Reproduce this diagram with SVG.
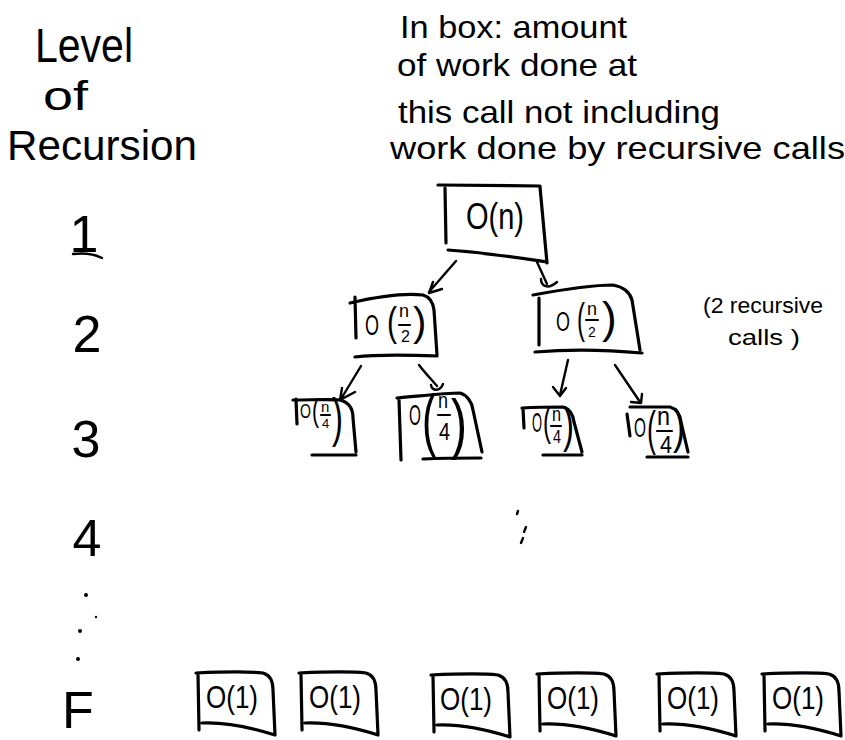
<svg xmlns="http://www.w3.org/2000/svg" xmlns:xlink="http://www.w3.org/1999/xlink" width="845" height="740" viewBox="0 0 845 740">
  <style>
    .ink { fill: none; stroke: #000; stroke-width: 3.2; stroke-linecap: round; stroke-linejoin: round; }
    .pen { fill: none; stroke: #000; stroke-width: 2.4; stroke-linecap: round; stroke-linejoin: round; }
    .bar { fill: none; stroke: #000; stroke-width: 2.2; stroke-linecap: round; }
    text { font-family: "Liberation Sans", "DejaVu Sans", sans-serif; fill: #000; }
    .note { font-size: 32px; }
    .lvl { font-size: 52px; text-anchor: middle; }
  </style>
  <defs>
    <!-- hand-drawn box used for the base-case calls -->
    <path id="leafBox" class="ink" d="M -1,1 C 22,0 48,-1 66,1 C 73,3 76,9 76,18 L 78,63 M 1,2 L 2,58 M 5,51 C 30,50 56,56 78,63"/>
  </defs>

  <rect width="845" height="740" fill="#fff"/>

  <!-- left column: recursion level -->
  <g id="levels">
    <text x="35" y="62" font-size="48" textLength="98" lengthAdjust="spacingAndGlyphs">Level</text>
    <text x="43" y="110" font-size="40" textLength="45" lengthAdjust="spacingAndGlyphs">of</text>
    <text x="7" y="160" font-size="42" textLength="190" lengthAdjust="spacingAndGlyphs">Recursion</text>
    <text class="lvl" x="84" y="252">1</text>
    <path class="pen" d="M 73,254 C 82,253 94,254 102,258"/>
    <text class="lvl" x="87" y="352">2</text>
    <text class="lvl" x="86" y="457" font-size="64">3</text>
    <text class="lvl" x="87" y="556">4</text>
    <circle cx="86" cy="595" r="2"/>
    <circle cx="96" cy="617" r="1.2"/>
    <circle cx="80" cy="631" r="2"/>
    <circle cx="78" cy="659" r="2"/>
    <text class="lvl" x="78" y="728" font-size="58">F</text>
  </g>

  <!-- explanation at top -->
  <g id="legend">
    <text class="note" x="400" y="38" textLength="227" lengthAdjust="spacingAndGlyphs">In box: amount</text>
    <text class="note" x="397" y="76" textLength="240" lengthAdjust="spacingAndGlyphs">of work done at</text>
    <text class="note" x="398" y="123" font-size="30" textLength="322" lengthAdjust="spacingAndGlyphs">this call not including</text>
    <text class="note" x="390" y="159" textLength="455" lengthAdjust="spacingAndGlyphs">work done by recursive calls</text>
  </g>

  <g id="side-note">
    <text x="703" y="313" font-size="22" textLength="120" lengthAdjust="spacingAndGlyphs">(2 recursive</text>
    <text x="728" y="345" font-size="22" textLength="72" lengthAdjust="spacingAndGlyphs">calls )</text>
  </g>

  <!-- level 1 -->
  <g id="root">
    <path class="ink" d="M 438,185 L 540,186 M 445,188 L 446,243 M 540,187 L 547,263 M 448,250 C 480,252 520,258 547,262"/>
    <text x="466" y="229" font-size="36" textLength="58" lengthAdjust="spacingAndGlyphs">O(n)</text>
  </g>

  <!-- level 2: O(n/2), each symbol placed by hand -->
  <g id="half-left">
    <path class="ink" d="M 350,303 C 380,296 405,293 423,295 C 430,297 433,302 434,310 L 437,355 M 355,297 L 356,338 M 355,357 C 380,354 410,355 437,356"/>
    <text transform="translate(365,335) scale(0.6,1)" font-size="30">O</text>
    <text transform="translate(387,336) scale(0.75,1)" font-size="40">(</text>
    <text transform="translate(399,317)" font-size="18">n</text>
    <text transform="translate(401,342)" font-size="16">2</text>
    <text transform="translate(413,336)" font-size="40">)</text>
    <path class="bar" d="M 399,325 L 410,325"/>
  </g>
  <g id="half-right">
    <path class="ink" d="M 533,295 C 560,290 590,285 613,285 C 624,287 630,293 632,300 L 640,350 M 539,298 L 539,345 M 535,352 C 570,349 610,350 642,353"/>
    <text transform="translate(556,331) scale(0.64,1)" font-size="28">O</text>
    <text transform="translate(577,333) scale(0.57,1)" font-size="42">(</text>
    <text transform="translate(587,315)" font-size="18">n</text>
    <text transform="translate(588,337)" font-size="14">2</text>
    <text transform="translate(602,333)" font-size="44">)</text>
    <path class="bar" d="M 586,320 L 598,320"/>
  </g>

  <!-- level 3: O(n/4) -->
  <g id="quarter-1">
    <path class="ink" d="M 293,400 C 310,400 330,399 340,400 C 348,402 353,408 353,418 L 356,452 M 296,399 L 297,424 M 312,455 L 356,455"/>
    <text transform="translate(300,418) scale(0.67,1)" font-size="21">O</text>
    <text transform="translate(312,421) scale(0.68,1)" font-size="31">(</text>
    <text transform="translate(321,412)" font-size="15">n</text>
    <text transform="translate(322,428)" font-size="13">4</text>
    <text transform="translate(332,436) scale(0.62,1)" font-size="53">)</text>
    <path class="bar" d="M 321,415 L 330,415"/>
  </g>
  <g id="quarter-2">
    <path class="ink" d="M 397,398 C 420,396 445,393 460,393 C 467,395 472,402 473,410 L 482,452 M 399,400 L 401,460 M 423,459 C 445,458 465,458 481,458"/>
    <text transform="translate(409,425) scale(0.51,1)" font-size="30">O</text>
    <text transform="translate(422,443) scale(0.62,1)" font-size="68">(</text>
    <text transform="translate(438,408) scale(0.82,1)" font-size="22">n</text>
    <text transform="translate(439,440) scale(0.83,1)" font-size="24">4</text>
    <text transform="translate(451,446) scale(0.72,1)" font-size="67">)</text>
    <path class="bar" d="M 438,415 L 450,415"/>
  </g>
  <g id="quarter-3">
    <path class="ink" d="M 522,408 C 540,407 553,407 563,407 C 570,409 573,414 574,422 L 582,452 M 523,408 L 524,428 M 543,455 L 582,455"/>
    <text transform="translate(532,432) scale(0.46,1)" font-size="28">O</text>
    <text transform="translate(543,436) scale(0.6,1)" font-size="40">(</text>
    <text transform="translate(552,421) scale(0.81,1)" font-size="20">n</text>
    <text transform="translate(553,443) scale(0.8,1)" font-size="18">4</text>
    <text transform="translate(563,442) scale(0.66,1)" font-size="50">)</text>
    <path class="bar" d="M 551,426 L 561,426"/>
  </g>
  <g id="quarter-4">
    <path class="ink" d="M 630,407 C 645,407 660,407 670,407 C 677,409 680,414 681,422 L 688,452 M 627,414 L 630,436 M 647,457 L 688,457"/>
    <text transform="translate(634,437) scale(0.57,1)" font-size="27">O</text>
    <text transform="translate(647,445) scale(0.56,1)" font-size="48">(</text>
    <text transform="translate(657,425) scale(0.9,1)" font-size="26">n</text>
    <text transform="translate(660,453) scale(0.9,1)" font-size="24">4</text>
    <text transform="translate(673,443) scale(0.74,1)" font-size="49">)</text>
    <path class="bar" d="M 657,431 L 672,431"/>
  </g>

  <!-- level 4 ellipsis -->
  <g id="more-levels">
    <path class="pen" d="M 517,514 L 518,511 M 524,532 L 526,527 M 521,543 L 523,538"/>
  </g>

  <!-- base-case calls -->
  <g id="leaf-1"><use xlink:href="#leafBox" x="197" y="672"/><text x="206" y="708" font-size="32" textLength="52" lengthAdjust="spacingAndGlyphs">O(1)</text></g>
  <g id="leaf-2"><use xlink:href="#leafBox" x="300" y="672"/><text x="309" y="708" font-size="32" textLength="52" lengthAdjust="spacingAndGlyphs">O(1)</text></g>
  <g id="leaf-3"><use xlink:href="#leafBox" x="432" y="674"/><text x="440" y="710" font-size="32" textLength="52" lengthAdjust="spacingAndGlyphs">O(1)</text></g>
  <g id="leaf-4"><use xlink:href="#leafBox" x="538" y="673"/><text x="547" y="709" font-size="32" textLength="52" lengthAdjust="spacingAndGlyphs">O(1)</text></g>
  <g id="leaf-5"><use xlink:href="#leafBox" x="658" y="673"/><text x="667" y="709" font-size="32" textLength="52" lengthAdjust="spacingAndGlyphs">O(1)</text></g>
  <g id="leaf-6"><use xlink:href="#leafBox" x="763" y="673"/><text x="772" y="709" font-size="32" textLength="52" lengthAdjust="spacingAndGlyphs">O(1)</text></g>

  <!-- call arrows -->
  <g id="connectors" class="pen">
    <path d="M 456,261 L 429,292 M 433,282 L 429,293 L 442,289"/>
    <path d="M 537,262 L 547,284 M 541,279 C 541,286 548,290 557,282"/>
    <path d="M 361,366 L 341,399 M 342,388 L 340,400 L 355,392"/>
    <path d="M 419,365 C 425,373 432,380 437,386 M 431,385 C 432,391 440,392 443,384"/>
    <path d="M 568,360 L 560,395 M 553,387 L 560,396 L 566,388"/>
    <path d="M 615,365 L 640,402 M 631,402 L 641,403 L 642,394"/>
  </g>
</svg>
